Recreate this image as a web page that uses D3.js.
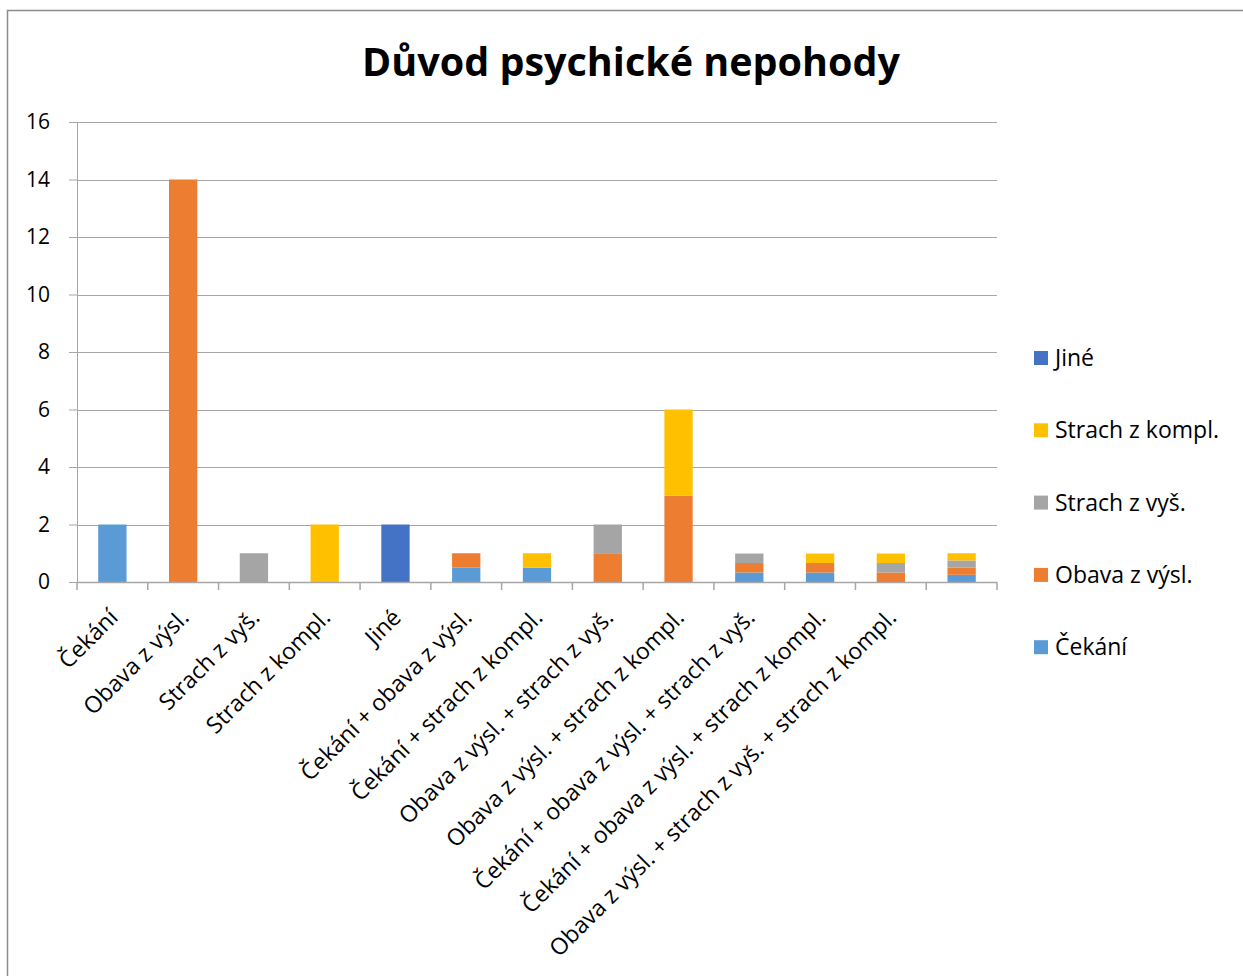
<!DOCTYPE html>
<html>
<head>
<meta charset="utf-8">
<script src="https://cdn.jsdelivr.net/npm/d3@7"></script>
<style>
    body { margin: 0; background: #fff; }
    svg { font-family: "Open Sans", Lato, sans-serif; }
</style>
</head>
<body>
<div class="data_figure"></div>
<script>
const width = 1243;
const height = 976;

const margin = {
    top: 122,
    bottom: 394,
    left: 77,
    right: 246,
}

const gridColor = "#a6a6a6";

// categories (last one has no visible label in the original)
const categories = [
    "Čekání",
    "Obava z výsl.",
    "Strach z vyš.",
    "Strach z kompl.",
    "Jiné",
    "Čekání + obava z výsl.",
    "Čekání + strach z kompl.",
    "Obava z výsl. + strach z vyš.",
    "Obava z výsl. + strach z kompl.",
    "Čekání + obava z výsl. + strach z vyš.",
    "Čekání + obava z výsl. + strach z kompl.",
    "Obava z výsl. + strach z vyš. + strach z kompl.",
    ""
];

const seriesNames = ["Čekání", "Obava z výsl.", "Strach z vyš.", "Strach z kompl.", "Jiné"];
const seriesColors = ["#5b9bd5", "#ed7d31", "#a5a5a5", "#ffc000", "#4472c4"];

const cekani      = [2, 0, 0, 0, 0, 0.5, 0.5, 0, 0, 0.33, 0.33, 0, 0.25];
const obava       = [0, 14, 0, 0, 0, 0.5, 0, 1, 3, 0.33, 0.33, 0.33, 0.25];
const strachVys   = [0, 0, 1, 0, 0, 0, 0, 1, 0, 0.33, 0, 0.33, 0.25];
const strachKompl = [0, 0, 0, 2, 0, 0, 0.5, 0, 3, 0, 0.33, 0.33, 0.25];
const jine        = [0, 0, 0, 0, 2, 0, 0, 0, 0, 0, 0, 0, 0];

const yTicks = [0, 2, 4, 6, 8, 10, 12, 14, 16];

function draw() {
    const seriesValues = [cekani, obava, strachVys, strachKompl, jine];
    const table = categories.map((c, i) => {
        let row = { index: i, label: c };
        seriesNames.forEach((s, j) => { row[s] = seriesValues[j][i]; });
        return row;
    });

    const stacked = d3.stack().keys(seriesNames)(table);

    const xScale = d3.scaleBand()
        .domain(d3.range(categories.length))
        .range([margin.left, width - margin.right])
        .paddingInner(0.6)
        .paddingOuter(0.3);

    const yScale = d3.scaleLinear()
        .domain([0, 16])
        .range([height - margin.bottom, margin.top]);

    let svg = d3.select(".data_figure")
        .append("svg")
        .attr("width", width)
        .attr("height", height);

    // chart border
    svg.append("rect")
        .attr("x", 7.5)
        .attr("y", 10.5)
        .attr("width", width)
        .attr("height", height)
        .attr("fill", "none")
        .attr("stroke", "#8c8c8c")
        .attr("stroke-width", 1.5);

    svg.append("text")
        .text("Důvod psychické nepohody")
        .attr("x", 631)
        .attr("y", 76)
        .attr("text-anchor", "middle")
        .style("font-size", "39.5px")
        .style("font-weight", "bold");

    // y axis with gridlines
    const yAxis = svg.append("g")
        .attr("transform", "translate(" + margin.left + ",0)")
        .call(d3.axisLeft(yScale).tickValues(yTicks).tickSize(8).tickPadding(19))
        .attr("id", "y-axis");
    yAxis.select(".domain").attr("stroke", gridColor);
    yAxis.selectAll(".tick line").attr("stroke", gridColor);
    yAxis.selectAll(".tick text")
        .style("font-size", "21px")
        .attr("fill", "#000")
        .attr("font-family", "'Open Sans', sans-serif");

    svg.append("g")
        .selectAll("line")
        .data(yTicks.filter((d) => d > 0))
        .enter()
        .append("line")
        .attr("x1", margin.left)
        .attr("x2", width - margin.right)
        .attr("y1", (d) => Math.round(yScale(d)) + 0.5)
        .attr("y2", (d) => Math.round(yScale(d)) + 0.5)
        .attr("stroke", gridColor);

    // bars
    svg.append("g")
        .selectAll("g")
        .data(stacked)
        .enter()
        .append("g")
        .attr("fill", (d, i) => seriesColors[i])
        .selectAll("rect")
        .data((d) => d)
        .enter()
        .append("rect")
        .attr("x", (d, i) => xScale(i))
        .attr("width", xScale.bandwidth())
        .attr("y", (d) => yScale(d[1]))
        .attr("height", (d) => yScale(d[0]) - yScale(d[1]));

    // x axis
    const baseY = yScale(0);
    const xAxis = svg.append("g");
    xAxis.append("line")
        .attr("x1", margin.left)
        .attr("x2", width - margin.right)
        .attr("y1", baseY + 0.5)
        .attr("y2", baseY + 0.5)
        .attr("stroke", gridColor)
        .attr("stroke-width", 1.5);
    const step = xScale.step();
    xAxis.selectAll(".xtick")
        .data(d3.range(categories.length + 1))
        .enter()
        .append("line")
        .attr("x1", (d) => margin.left + d * step)
        .attr("x2", (d) => margin.left + d * step)
        .attr("y1", baseY)
        .attr("y2", baseY + 8)
        .attr("stroke", gridColor)
        .attr("stroke-width", 1.5);

    xAxis.selectAll(".xlabel")
        .data(table)
        .enter()
        .append("text")
        .text((d) => d.label)
        .attr("text-anchor", "end")
        .attr("transform", (d, i) => {
            const cx = xScale(i) + xScale.bandwidth() / 2 + 7;
            return "translate(" + cx + "," + (baseY + 37) + ") rotate(-45)";
        })
        .style("font-size", "23px");

    // legend (top to bottom reversed order)
    const legendInfo = seriesNames.map((s, i) => ({ label: s, color: seriesColors[i] })).reverse();
    let legendSVG = svg.append("g").attr("id", "legend");
    legendSVG.selectAll("rect")
        .data(legendInfo)
        .enter()
        .append("rect")
        .attr("x", 1034)
        .attr("y", (d, i) => 351 + i * 72.3)
        .attr("width", 14)
        .attr("height", 14)
        .attr("fill", (d) => d.color);
    legendSVG.selectAll("text")
        .data(legendInfo)
        .enter()
        .append("text")
        .attr("x", 1055)
        .attr("y", (d, i) => 366 + i * 72.3)
        .text((d) => d.label)
        .style("font-size", "23px");
}

draw();
</script>
</body>
</html>
